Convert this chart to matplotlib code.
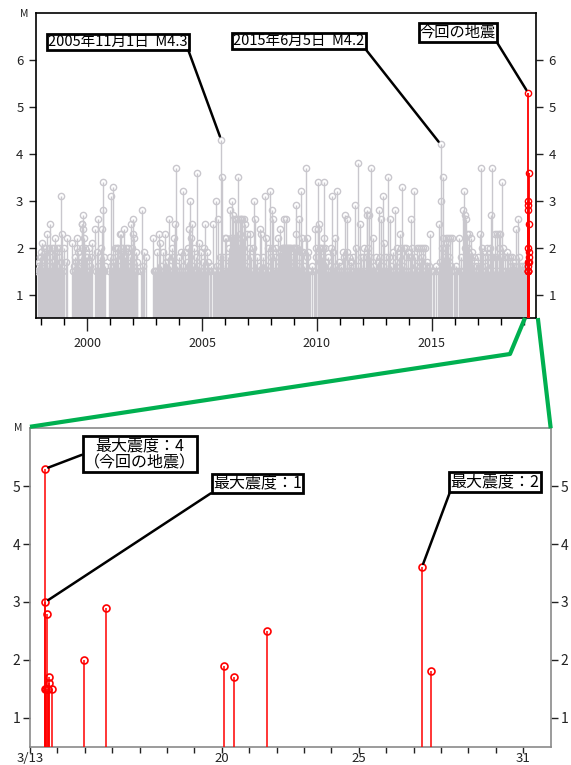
import matplotlib
matplotlib.use("Agg")
import matplotlib.pyplot as plt
from matplotlib.lines import Line2D

plt.rcParams['font.family'] = ['Noto Sans CJK JP', 'DejaVu Sans']

# ---------------- data: (decimal year, magnitude) ----------------
events_1997_1999 = [
    (1997.76, 1.5), (1997.86, 1.6), (1997.88, 1.5), (1997.90, 1.7), (1997.93, 1.8), (1997.95, 1.5), (1997.97, 1.8),
    (1998.00, 1.9), (1998.02, 1.6), (1998.05, 2.1), (1998.07, 1.5), (1998.10, 2.0), (1998.13, 1.7), (1998.15, 1.5),
    (1998.18, 1.9), (1998.20, 2.0), (1998.23, 2.3), (1998.26, 1.6), (1998.29, 1.5), (1998.32, 2.0), (1998.36, 2.5),
    (1998.39, 1.8), (1998.42, 1.5), (1998.45, 2.0), (1998.48, 1.6), (1998.51, 1.7), (1998.54, 2.0), (1998.58, 2.2),
    (1998.61, 1.5), (1998.64, 1.9), (1998.67, 2.0), (1998.70, 1.6), (1998.73, 1.5), (1998.76, 1.8), (1998.79, 2.0),
    (1998.82, 1.5), (1998.85, 1.7), (1998.87, 3.1), (1998.91, 2.3), (1998.94, 1.5), (1998.97, 2.0),
    (1999.07, 1.7), (1999.13, 2.2), (1999.35, 2.1), (1999.39, 1.5), (1999.42, 1.6), (1999.45, 1.8), (1999.48, 1.5),
    (1999.51, 1.7), (1999.54, 2.0), (1999.56, 2.2), (1999.59, 1.5), (1999.62, 1.9), (1999.65, 1.6), (1999.68, 1.5),
    (1999.71, 1.8), (1999.74, 1.7), (1999.76, 2.5), (1999.78, 2.0), (1999.79, 2.5), (1999.80, 2.7), (1999.81, 2.4),
    (1999.83, 1.5), (1999.85, 2.2), (1999.88, 1.6), (1999.90, 2.0), (1999.93, 1.5), (1999.96, 1.8),
]
events_2000_2002 = [
    (2000.00, 1.8), (2000.04, 1.5), (2000.08, 2.0), (2000.12, 1.6), (2000.16, 1.8), (2000.22, 2.1), (2000.36, 2.4),
    (2000.39, 1.5), (2000.42, 1.9), (2000.45, 1.6), (2000.48, 2.6), (2000.51, 1.5), (2000.54, 1.8), (2000.58, 2.0),
    (2000.62, 1.5), (2000.66, 2.4), (2000.67, 2.8), (2000.68, 3.4), (2000.71, 1.5), (2000.73, 1.8), (2000.77, 1.6),
    (2000.96, 1.5), (2000.99, 1.8), (2001.02, 1.6), (2001.05, 3.1), (2001.08, 1.5), (2001.12, 3.3), (2001.15, 1.7),
    (2001.18, 1.5), (2001.21, 2.0), (2001.24, 1.8), (2001.27, 1.5), (2001.30, 2.0), (2001.33, 1.6), (2001.36, 2.0),
    (2001.39, 1.5), (2001.42, 2.3), (2001.45, 2.0), (2001.48, 2.3), (2001.51, 1.9), (2001.54, 2.0), (2001.57, 1.5),
    (2001.60, 2.4), (2001.63, 1.8), (2001.67, 2.0), (2001.70, 1.5), (2001.73, 1.9), (2001.76, 1.6), (2001.79, 2.0),
    (2001.82, 1.5), (2001.86, 1.8), (2001.89, 2.5), (2001.92, 1.6), (2001.95, 2.0), (2001.98, 2.3), (2002.00, 2.6),
    (2002.02, 2.2), (2002.05, 1.8), (2002.08, 1.5), (2002.11, 1.9), (2002.15, 1.5), (2002.18, 1.7), (2002.34, 1.5),
    (2002.37, 2.8), (2002.41, 1.6), (2002.47, 1.9), (2002.55, 1.8), (2002.88, 2.2), (2002.92, 1.5), (2002.96, 1.5),
]
events_2003_2005 = [
    (2003.00, 1.5), (2003.04, 1.9), (2003.08, 1.5), (2003.12, 2.3), (2003.15, 1.5), (2003.19, 2.1), (2003.23, 1.6),
    (2003.27, 1.5), (2003.31, 1.9), (2003.35, 1.5), (2003.38, 2.3), (2003.42, 1.7), (2003.46, 1.5), (2003.50, 1.8),
    (2003.54, 1.5), (2003.57, 2.6), (2003.61, 1.6), (2003.64, 1.5), (2003.67, 2.0), (2003.71, 1.5), (2003.74, 1.8),
    (2003.78, 2.2), (2003.82, 2.5), (2003.85, 3.7), (2003.88, 1.5), (2003.92, 1.6), (2003.96, 1.5), (2004.00, 1.8),
    (2004.04, 1.5), (2004.08, 1.9), (2004.12, 1.5), (2004.15, 3.2), (2004.19, 1.6), (2004.23, 1.5), (2004.27, 1.9),
    (2004.31, 1.5), (2004.35, 1.7), (2004.39, 2.0), (2004.43, 2.4), (2004.46, 3.0), (2004.50, 1.5), (2004.53, 2.2),
    (2004.57, 2.5), (2004.61, 1.6), (2004.65, 2.0), (2004.69, 1.5), (2004.73, 1.8), (2004.76, 3.6), (2004.80, 1.5),
    (2004.84, 1.6), (2004.88, 2.1), (2004.92, 1.5), (2004.96, 1.9), (2005.00, 1.5), (2005.04, 1.7), (2005.08, 2.0),
    (2005.12, 2.5), (2005.16, 1.5), (2005.20, 1.9), (2005.24, 1.5), (2005.28, 1.7), (2005.35, 1.5), (2005.41, 1.6),
    (2005.47, 2.5), (2005.52, 1.5), (2005.56, 1.5), (2005.60, 3.0), (2005.65, 1.6), (2005.69, 2.6), (2005.73, 1.5),
    (2005.76, 1.8), (2005.83, 4.3), (2005.86, 3.5), (2005.90, 1.8), (2005.94, 1.5), (2005.99, 2.2),
]
events_2006_2008 = [
    (2006.03, 2.2), (2006.07, 1.5), (2006.11, 1.8), (2006.15, 1.6), (2006.19, 2.0), (2006.22, 2.8), (2006.26, 2.2),
    (2006.30, 3.0), (2006.34, 2.7), (2006.37, 2.0), (2006.40, 2.2), (2006.43, 2.6), (2006.46, 2.0), (2006.49, 2.6),
    (2006.52, 2.2), (2006.55, 3.5), (2006.58, 2.6), (2006.61, 2.0), (2006.64, 2.6), (2006.67, 2.3), (2006.70, 2.6),
    (2006.73, 2.0), (2006.76, 2.6), (2006.79, 2.2), (2006.82, 2.6), (2006.85, 1.8), (2006.88, 2.5), (2006.91, 1.6),
    (2006.95, 2.3), (2006.99, 1.5), (2007.03, 2.0), (2007.07, 2.3), (2007.11, 1.5), (2007.15, 1.8), (2007.19, 1.5),
    (2007.23, 2.0), (2007.26, 3.0), (2007.30, 2.6), (2007.34, 1.5), (2007.38, 1.8), (2007.42, 1.5), (2007.46, 1.6),
    (2007.50, 1.5), (2007.54, 2.4), (2007.58, 2.3), (2007.62, 1.5), (2007.66, 1.8), (2007.70, 1.5), (2007.75, 3.1),
    (2007.79, 2.2), (2007.83, 1.6), (2007.87, 2.0), (2007.91, 1.5), (2007.96, 3.2), (2008.00, 1.8), (2008.03, 2.0),
    (2008.06, 2.8), (2008.10, 2.6), (2008.13, 1.5), (2008.17, 1.8), (2008.21, 2.0), (2008.25, 1.5), (2008.29, 2.2),
    (2008.33, 1.6), (2008.37, 1.9), (2008.41, 2.4), (2008.45, 1.9), (2008.48, 2.0), (2008.52, 2.0), (2008.55, 2.0),
    (2008.58, 2.6), (2008.61, 2.0), (2008.64, 2.6), (2008.67, 2.0), (2008.70, 2.0), (2008.73, 1.8), (2008.76, 2.0),
    (2008.79, 2.0), (2008.82, 1.7), (2008.85, 2.0), (2008.88, 2.0), (2008.91, 1.6), (2008.94, 2.0), (2008.97, 1.8),
]
events_2009_2012 = [
    (2009.00, 2.0), (2009.03, 1.5), (2009.06, 2.0), (2009.08, 2.9), (2009.11, 2.3), (2009.14, 2.0), (2009.17, 1.6),
    (2009.20, 2.6), (2009.23, 1.8), (2009.26, 1.5), (2009.29, 3.2), (2009.32, 1.9), (2009.35, 2.2), (2009.38, 1.5),
    (2009.41, 1.9), (2009.44, 1.6), (2009.48, 1.5), (2009.51, 3.7), (2009.55, 2.2), (2009.59, 1.8), (2009.63, 1.9),
    (2009.67, 1.5), (2009.72, 1.5), (2009.80, 1.6), (2009.86, 1.5), (2009.91, 2.4), (2009.95, 1.8), (2009.98, 2.0),
    (2010.03, 3.4), (2010.06, 2.4), (2010.09, 2.5), (2010.12, 2.0), (2010.15, 1.7), (2010.18, 2.0), (2010.21, 1.5),
    (2010.24, 1.8), (2010.27, 2.0), (2010.30, 3.4), (2010.33, 2.2), (2010.37, 2.0), (2010.40, 1.7), (2010.44, 1.5),
    (2010.48, 1.8), (2010.52, 1.5), (2010.56, 1.6), (2010.60, 1.5), (2010.63, 2.0), (2010.66, 3.1), (2010.70, 1.9),
    (2010.74, 1.5), (2010.78, 2.2), (2010.82, 1.6), (2010.85, 1.5), (2010.88, 3.2), (2010.92, 1.5), (2010.96, 1.7),
    (2011.00, 1.5), (2011.04, 1.6), (2011.08, 1.5), (2011.12, 1.9), (2011.16, 1.5), (2011.20, 1.8), (2011.24, 2.7),
    (2011.27, 1.5), (2011.30, 2.6), (2011.33, 1.9), (2011.37, 1.5), (2011.41, 1.8), (2011.45, 1.6), (2011.49, 1.7),
    (2011.53, 1.5), (2011.57, 1.8), (2011.61, 1.5), (2011.66, 2.9), (2011.70, 2.0), (2011.74, 1.5), (2011.78, 1.6),
    (2011.81, 3.8), (2011.85, 1.5), (2011.89, 2.5), (2011.93, 1.8), (2011.97, 1.5), (2012.01, 1.8), (2012.05, 2.0),
    (2012.09, 1.5), (2012.13, 1.8), (2012.16, 2.7), (2012.19, 2.8), (2012.22, 2.0), (2012.25, 2.7), (2012.28, 1.5),
    (2012.32, 1.8), (2012.37, 3.7), (2012.41, 1.5), (2012.45, 2.2), (2012.49, 1.6), (2012.53, 1.5), (2012.57, 1.8),
    (2012.61, 1.5), (2012.65, 1.7), (2012.69, 1.5), (2012.71, 2.8), (2012.75, 1.8), (2012.79, 2.6), (2012.83, 1.5),
    (2012.86, 3.1), (2012.90, 1.6), (2012.94, 2.1), (2012.98, 1.5),
]
events_2013_2016 = [
    (2013.02, 1.8), (2013.06, 1.5), (2013.09, 3.5), (2013.13, 1.8), (2013.17, 1.5), (2013.20, 2.6), (2013.24, 1.6),
    (2013.28, 1.5), (2013.32, 1.9), (2013.36, 1.5), (2013.40, 2.8), (2013.44, 1.7), (2013.48, 2.0), (2013.52, 1.5),
    (2013.56, 1.8), (2013.60, 2.3), (2013.64, 1.5), (2013.67, 2.0), (2013.70, 3.3), (2013.74, 1.6), (2013.78, 2.0),
    (2013.82, 1.5), (2013.86, 1.8), (2013.90, 2.0), (2013.94, 1.5), (2013.98, 1.9), (2014.02, 1.5), (2014.06, 1.8),
    (2014.10, 2.6), (2014.14, 2.0), (2014.18, 1.5), (2014.23, 3.2), (2014.27, 1.8), (2014.31, 1.6), (2014.35, 2.0),
    (2014.39, 1.5), (2014.43, 2.0), (2014.47, 1.7), (2014.51, 1.5), (2014.55, 2.0), (2014.59, 1.8), (2014.63, 2.0),
    (2014.67, 1.5), (2014.71, 2.0), (2014.75, 1.6), (2014.79, 1.7), (2014.83, 1.5), (2014.88, 1.6), (2014.93, 2.3),
    (2014.98, 1.5), (2015.05, 1.5), (2015.12, 1.5), (2015.20, 1.6), (2015.26, 1.5), (2015.31, 2.5), (2015.35, 1.7),
    (2015.39, 4.2), (2015.42, 3.0), (2015.45, 2.0), (2015.48, 3.5), (2015.51, 2.2), (2015.54, 1.8), (2015.57, 2.0),
    (2015.60, 2.2), (2015.63, 1.5), (2015.67, 2.1), (2015.70, 2.2), (2015.74, 1.8), (2015.78, 2.2), (2015.82, 1.6),
    (2015.86, 1.5), (2015.90, 2.2), (2015.95, 1.5), (2016.00, 1.5), (2016.06, 1.6), (2016.12, 1.5), (2016.17, 2.2),
    (2016.22, 1.5), (2016.27, 1.8), (2016.32, 1.5), (2016.36, 2.8), (2016.40, 3.2), (2016.43, 2.0), (2016.46, 2.7),
    (2016.49, 2.6), (2016.52, 1.8), (2016.55, 2.3), (2016.58, 2.0), (2016.62, 2.3), (2016.65, 1.8), (2016.69, 2.2),
    (2016.72, 1.5), (2016.76, 1.9), (2016.80, 1.6), (2016.84, 1.8), (2016.88, 1.5), (2016.92, 1.6), (2016.96, 1.5),
]
events_2017_2019 = [
    (2017.00, 1.8), (2017.04, 1.5), (2017.08, 2.3), (2017.11, 1.6), (2017.14, 3.7), (2017.17, 2.0), (2017.21, 1.5),
    (2017.25, 1.9), (2017.29, 1.5), (2017.33, 1.8), (2017.37, 1.6), (2017.41, 2.0), (2017.45, 1.8), (2017.49, 1.5),
    (2017.53, 2.0), (2017.57, 1.8), (2017.60, 2.7), (2017.64, 3.7), (2017.67, 1.8), (2017.71, 1.5), (2017.75, 2.3),
    (2017.79, 1.8), (2017.83, 2.3), (2017.87, 1.5), (2017.91, 2.3), (2017.95, 2.0), (2017.99, 2.3), (2018.03, 1.8),
    (2018.08, 3.4), (2018.12, 2.0), (2018.16, 1.5), (2018.20, 1.8), (2018.24, 1.5), (2018.28, 1.9), (2018.32, 1.8),
    (2018.36, 1.5), (2018.40, 1.8), (2018.44, 1.6), (2018.48, 1.8), (2018.52, 1.5), (2018.56, 1.7), (2018.60, 1.5),
    (2018.64, 1.6), (2018.68, 2.4), (2018.72, 1.5), (2018.76, 2.6), (2018.80, 1.8), (2018.84, 1.5), (2018.88, 1.6),
    (2018.92, 1.5), (2018.96, 1.6), (2019.00, 1.5), (2019.05, 1.6), (2019.10, 1.5),
]

# recent sequence (March 2019), x = day of March
recent_day = [13.54, 13.55, 13.56, 13.58, 13.63, 13.64, 13.70, 13.71, 13.80,
              14.97, 15.77, 20.08, 20.43, 21.66, 27.30, 27.64]
recent_mag = [1.5, 5.3, 3.0, 1.5, 2.8, 1.5, 1.7, 1.6, 1.5,
              2.0, 2.9, 1.9, 1.7, 2.5, 3.6, 1.8]

top_yticks = [1, 2, 3, 4, 5, 6]
top_xmajor = [2000, 2005, 2010, 2015]
bottom_xlabels = {13: '3/13', 20: '20', 25: '25', 31: '31'}

# ---------------- figure ----------------
W, H = 571, 765
fig = plt.figure(figsize=(W / 100, H / 100), dpi=100)

GRAY = '#c9c7cd'
RED = '#ff0000'
TXT = '#222222'

ax1 = fig.add_axes([36 / W, 1 - 318 / H, 500 / W, 305 / H])
ax2 = fig.add_axes([30 / W, 1 - 746.7 / H, 520.7 / W, 318.4 / H])

all_events = (events_1997_1999 + events_2000_2002 + events_2003_2005 + events_2006_2008
              + events_2009_2012 + events_2013_2016 + events_2017_2019)
gx = [e[0] for e in all_events]
gm = [e[1] for e in all_events]

Y0 = 0.5
ax1.vlines(gx, Y0, gm, color=GRAY, lw=1.0, zorder=2)
ax1.plot(gx, gm, 'o', ms=4.5, mfc='none', mec=GRAY, mew=1.0, zorder=3)

recent_year = [2019 + (58 + d) / 365.0 for d in recent_day]
ax1.vlines(recent_year, Y0, recent_mag, color=RED, lw=1.3, zorder=4)
ax1.plot(recent_year, recent_mag, 'o', ms=4.5, mfc='none', mec=RED, mew=1.0, zorder=5)

ax1.set_xlim(1997.77, 2019.54)
ax1.set_ylim(Y0, 7.0)
ax1.set_xticks(top_xmajor)
ax1.set_xticks(list(range(1998, 2020)), minor=True)
ax1.set_yticks(top_yticks)
ax1.tick_params(axis='x', which='major', length=9, width=1, pad=5, labelsize=9, colors=TXT)
ax1.tick_params(axis='x', which='minor', length=5, width=1)
ax1.tick_params(axis='y', which='major', left=True, right=True, labelleft=True, labelright=True,
                length=5, width=1, pad=4, labelsize=9.5, colors=TXT)
for s in ax1.spines.values():
    s.set_linewidth(1.2)
    s.set_color('black')

ax2.vlines(recent_day, Y0, recent_mag, color=RED, lw=1.1, zorder=4)
ax2.plot(recent_day, recent_mag, 'o', ms=5.0, mfc='none', mec=RED, mew=1.2, zorder=5)
ax2.set_xlim(13, 32)
ax2.set_ylim(Y0, 6.0)
ax2.set_xticks(list(bottom_xlabels.keys()))
ax2.set_xticklabels(list(bottom_xlabels.values()))
ax2.set_xticks(list(range(14, 32)), minor=True)
ax2.set_yticks([1, 2, 3, 4, 5])
ax2.tick_params(axis='x', which='both', length=4, width=1, pad=0, labelsize=9.5, colors=TXT)
ax2.tick_params(axis='y', which='major', left=True, right=True, labelleft=True, labelright=True,
                length=5, width=1, pad=2, labelsize=10, colors=TXT)
for s in ax2.spines.values():
    s.set_linewidth(1.2)
    s.set_color('#8a8a8a')

fig.text(24 / W, 1 - 14 / H, 'M', fontsize=7.5, ha='center', va='center', color=TXT)
fig.text(18 / W, 1 - 428 / H, 'M', fontsize=7.5, ha='center', va='center', color=TXT)


def ann(ax, text, xy, xytext_px, relpos, fs, pad=0.08):
    box = dict(boxstyle='square,pad=%g' % pad, fc='white', ec='black', lw=2)
    ax.annotate(text, xy=xy, xycoords='data',
                xytext=(xytext_px[0], H - xytext_px[1]), textcoords='figure pixels',
                ha='center', va='center', fontsize=fs, color='black', bbox=box,
                linespacing=1.0,
                arrowprops=dict(arrowstyle='-', color='black', lw=1.8, relpos=relpos,
                                shrinkA=0, shrinkB=2.5), zorder=10)


ann(ax1, '2005年11月1日  M4.3', (2005.83, 4.3), (118, 41.7), (1, 0), 10.5)
ann(ax1, '2015年6月5日  M4.2', (2015.39, 4.2), (299, 41), (1, 0), 10.5)
ann(ax1, '今回の地震', (recent_year[1], 5.3), (458, 32.5), (1, 0), 11)
ann(ax2, '最大震度：4\n（今回の地震）', (recent_day[1], 5.3), (140, 454), (0, 0.5), 11.5)
ann(ax2, '最大震度：1', (recent_day[2], 3.0), (257.5, 483.3), (0, 0), 11.5)
ann(ax2, '最大震度：2', (recent_day[14], 3.6), (495, 482), (0, 0), 11.5)

# green zoom connector
to_fig = fig.transFigure.inverted()
p_top_l = to_fig.transform(ax1.transData.transform((2019.06, Y0)))
p_top_r = to_fig.transform(ax1.transData.transform((2019.62, Y0)))
p_bot_l = to_fig.transform(ax2.transData.transform((13, 6.0)))
p_bot_r = to_fig.transform(ax2.transData.transform((32, 6.0)))
kink = (510 / W, 1 - 354 / H)
GREEN = '#00b050'
fig.add_artist(Line2D([p_top_l[0], kink[0], p_bot_l[0]], [p_top_l[1], kink[1], p_bot_l[1] + 0.002],
                      color=GREEN, lw=3, solid_capstyle='butt'))
fig.add_artist(Line2D([p_top_r[0], p_bot_r[0]], [p_top_r[1], p_bot_r[1]],
                      color=GREEN, lw=3, solid_capstyle='butt'))

fig.savefig('out.png', dpi=100)
